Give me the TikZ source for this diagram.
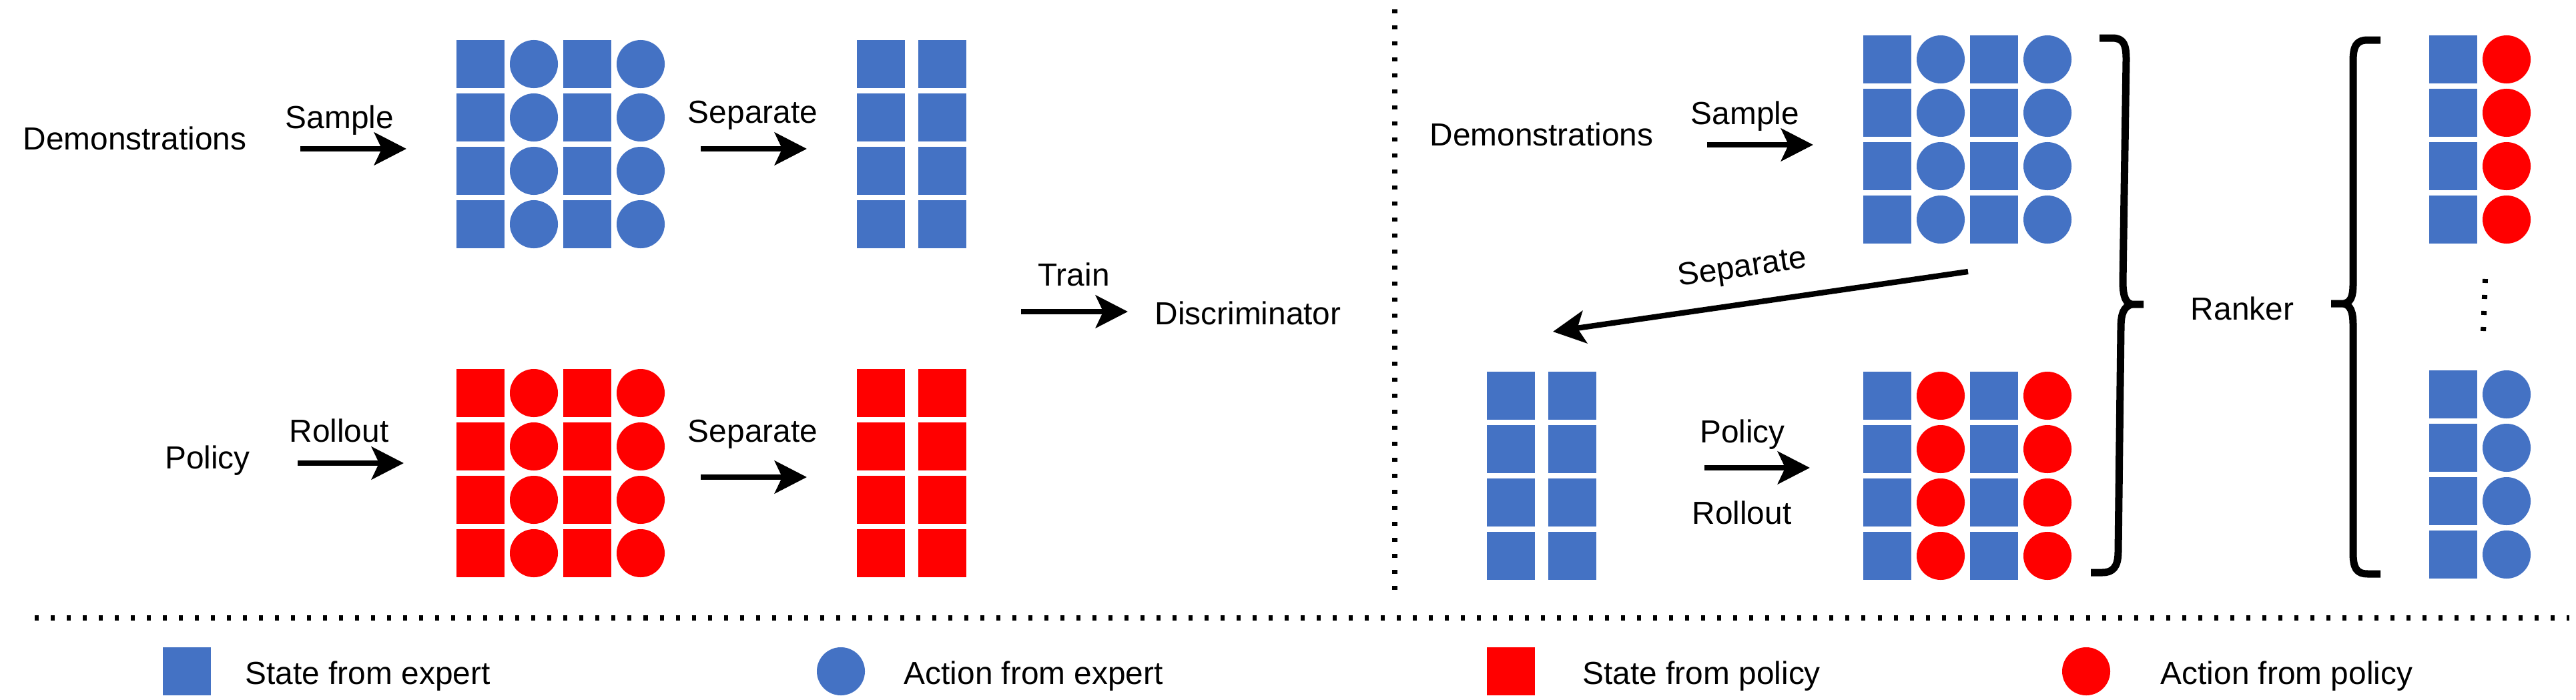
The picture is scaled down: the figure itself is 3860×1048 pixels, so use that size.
\documentclass[tikz,border=0pt]{standalone}
\usepackage{fontspec}
\setmainfont{Liberation Sans}
\usetikzlibrary{arrows.meta}

\definecolor{eblue}{HTML}{4472C4}
\definecolor{pred}{HTML}{FF0000}

\begin{document}
\begin{tikzpicture}[x=0.01cm,y=-0.01cm,inner sep=0pt,>={Stealth[length=13.7pt,width=13.9pt,inset=3.2pt]},
  st/.style={rectangle,fill=#1,minimum width=0.72cm,minimum height=0.72cm},
  ac/.style={circle,fill=#1,minimum size=0.72cm},
  lbl/.style={font=\fontsize{13.6pt}{16pt}\selectfont},
  flow/.style={->,line width=0.083cm},
  sepline/.style={line width=0.08cm,dash pattern=on 0.06cm off 0.18cm},
  brc/.style={line width=0.11cm,line join=round}]
\useasboundingbox (0,0) rectangle (3860,1048);

% left half: discriminator
\draw node [lbl,anchor=base] (demoL) at (202,224)  {Demonstrations};
\draw node [lbl,anchor=base] (smpL)  at (509,192)  {Sample};
\draw node [lbl,anchor=base] (sepL1) at (1128,184) {Separate};
\draw node [lbl,anchor=base] (polL)  at (311,702)  {Policy};
\draw node [lbl,anchor=base] (rolL)  at (508,662)  {Rollout};
\draw node [lbl,anchor=base] (sepL2) at (1128,662) {Separate};
\draw node [lbl,anchor=base] (train) at (1609,428) {Train};
\draw node [lbl,anchor=base] (disc)  at (1870,486) {Discriminator};

\foreach \r in {1,...,4} {
  \foreach \c in {1,3} \node [st=eblue] (dE\r\c) at ({640+80*\c},{16+80*\r}) {};
  \foreach \c in {2,4} \node [ac=eblue] (dE\r\c) at ({640+80*\c},{16+80*\r}) {};
  \node [st=eblue] (dS\r1) at (1320,{16+80*\r}) {};
  \node [st=eblue] (dS\r2) at (1412,{16+80*\r}) {};
  \foreach \c in {1,3} \node [st=pred] (dP\r\c) at ({640+80*\c},{509+80*\r}) {};
  \foreach \c in {2,4} \node [ac=pred] (dP\r\c) at ({640+80*\c},{509+80*\r}) {};
  \node [st=pred] (dR\r1) at (1320,{509+80*\r}) {};
  \node [st=pred] (dR\r2) at (1412,{509+80*\r}) {};
}

\coordinate (smpLa) at (450,223);  \coordinate (smpLb) at (609,223);
\coordinate (sepLa) at (1050,223); \coordinate (sepLb) at (1209,223);
\coordinate (rolLa) at (446,694);  \coordinate (rolLb) at (605,694);
\coordinate (sepMa) at (1050,715); \coordinate (sepMb) at (1209,715);
\coordinate (trna)  at (1530,467); \coordinate (trnb)  at (1690,467);
\draw [flow] (smpLa) -- (smpLb);
\draw [flow] (sepLa) -- (sepLb);
\draw [flow] (rolLa) -- (rolLb);
\draw [flow] (sepMa) -- (sepMb);
\draw [flow] (trna) -- (trnb);

% right half: ranker
\draw node [lbl,anchor=base] (demoR) at (2310,218) {Demonstrations};
\draw node [lbl,anchor=base] (smpR)  at (2615,186) {Sample};
\draw node [lbl,anchor=base] (polR)  at (2611,663) {Policy};
\draw node [lbl,anchor=base] (rolR)  at (2610,785) {Rollout};
\draw node [lbl,anchor=base] (rank)  at (3360,479) {Ranker};
\draw node [lbl,rotate=8.5]  (sepR)  at (2611,403) {Separate};

\foreach \r in {1,...,4} {
  \foreach \c in {1,3} \node [st=eblue] (rE\r\c) at ({2748+80*\c},{9+80*\r}) {};
  \foreach \c in {2,4} \node [ac=eblue] (rE\r\c) at ({2748+80*\c},{9+80*\r}) {};
  \foreach \c in {1,3} \node [st=eblue] (rM\r\c) at ({2748+80*\c},{513+80*\r}) {};
  \foreach \c in {2,4} \node [ac=pred]  (rM\r\c) at ({2748+80*\c},{513+80*\r}) {};
  \node [st=eblue] (rS\r1) at (2264,{513+80*\r}) {};
  \node [st=eblue] (rS\r2) at (2356,{513+80*\r}) {};
  \node [st=eblue] (kT\r1) at (3676,{9+80*\r}) {};
  \node [ac=pred]  (kT\r2) at (3756,{9+80*\r}) {};
  \node [st=eblue] (kB\r1) at (3676,{511+80*\r}) {};
  \node [ac=eblue] (kB\r2) at (3756,{511+80*\r}) {};
}

\coordinate (smpRa) at (2558,217); \coordinate (smpRb) at (2717,217);
\coordinate (sepRa) at (2949,407); \coordinate (sepRb) at (2327,497);
\coordinate (polRa) at (2554,701); \coordinate (polRb) at (2712,701);
\draw [flow] (smpRa) -- (smpRb);
\draw [flow] (sepRa) -- (sepRb);
\draw [flow] (polRa) -- (polRb);

% braces
\draw [brc] (3146,57) -- (3165,57) .. controls (3183,57) and (3186,68) .. (3186,90) -- (3181,422) .. controls (3181,446) and (3186,454) .. (3194,456) -- (3212,456);
\draw [brc] (3194,456) .. controls (3182,460) and (3178,470) .. (3178,492) -- (3174,826) .. controls (3174,850) and (3166,858) .. (3150,858) -- (3133,858);
\draw [brc] (3567,60) -- (3548,60) .. controls (3530,60) and (3526,70) .. (3526,92) -- (3526,425) .. controls (3526,446) and (3522,453) .. (3512,455) -- (3493,455);
\draw [brc] (3512,455) .. controls (3522,458) and (3526,466) .. (3526,488) -- (3526,828) .. controls (3526,850) and (3530,860) .. (3548,860) -- (3567,860);
\draw [sepline] (3724,418) -- (3721,498);

% separators
\draw [sepline] (2090,14) -- (2090,885);
\draw [sepline] (52,926) -- (3850,926);

% legend
\node [st=eblue] (lgSE) at (280,1006) {};
\node [lbl,anchor=base west] (lgSEt) at (367,1025) {State from expert};
\node [ac=eblue] (lgAE) at (1260,1006) {};
\node [lbl,anchor=base west] (lgAEt) at (1354,1025) {Action from expert};
\node [st=pred] (lgSP) at (2264,1006) {};
\node [lbl,anchor=base west] (lgSPt) at (2371,1025) {State from policy};
\node [ac=pred] (lgAP) at (3126,1006) {};
\node [lbl,anchor=base west] (lgAPt) at (3237,1025) {Action from policy};
\end{tikzpicture}
\end{document}
